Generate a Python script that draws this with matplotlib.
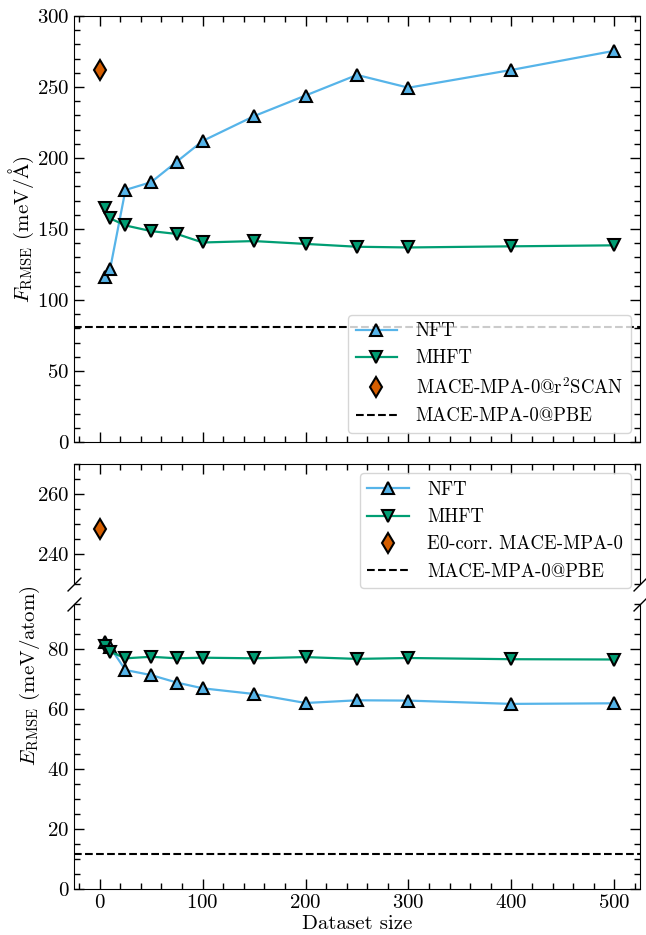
import matplotlib
matplotlib.use("Agg")
import matplotlib.pyplot as plt
from matplotlib.ticker import MultipleLocator

plt.rcParams['font.family'] = 'serif'
plt.rcParams['font.serif'] = ['cmr10', 'DejaVu Serif']
plt.rcParams['mathtext.fontset'] = 'cm'
plt.rcParams['axes.unicode_minus'] = False
plt.rcParams['axes.formatter.use_mathtext'] = True

# data
sizes = [5, 10, 25, 50, 75, 100, 150, 200, 250, 300, 400, 500]

f_nft = [116.5, 121.5, 177.5, 183, 197.5, 212, 229.5, 244, 258.5, 249.5, 262, 275.5]
f_mhft = [165, 157.5, 152.5, 148.5, 146.5, 140.5, 141.5, 139.5, 137.5, 137, 137.8, 138.5]
f_scan_x = [0]
f_scan = [262]
f_pbe = 80.8

e_nft = [82.5, 80.6, 73, 71.3, 68.8, 66.9, 65, 62, 62.9, 62.8, 61.7, 61.9]
e_mhft = [81, 79.1, 76.9, 77.4, 76.9, 77.1, 76.9, 77.3, 76.7, 77, 76.6, 76.5]
e_corr_x = [0]
e_corr = [248.3]
e_pbe = 11.8

c_nft = '#56B4E9'
c_mhft = '#009E73'
c_orange = '#D55E00'

W, H = 646, 935
fig = plt.figure(figsize=(W / 100, H / 100), dpi=100)

def box(l, t, r, b):
    return [l / W, 1 - b / H, (r - l) / W, (b - t) / H]

ax1 = fig.add_axes(box(74, 16, 640, 442))
ax2 = fig.add_axes(box(74, 464, 640, 584))
ax3 = fig.add_axes(box(74, 604, 640, 889))

mk = dict(markersize=9, markeredgecolor='k', markeredgewidth=1.5, linewidth=1.6)
leg_kw = dict(fontsize=13.5, handlelength=2.2, handletextpad=1.0)

# top panel: forces
ax1.plot(sizes, f_nft, marker='^', color=c_nft, markerfacecolor=c_nft, label='NFT', **mk)
ax1.plot(sizes, f_mhft, marker='v', color=c_mhft, markerfacecolor=c_mhft, label='MHFT', **mk)
ax1.plot(f_scan_x, f_scan, marker='d', linestyle='none', color=c_orange, markersize=10.5,
         markeredgecolor='k', markeredgewidth=1.5, label=r'MACE-MPA-0@r$^2$SCAN')
ax1.axhline(f_pbe, color='k', linestyle='--', linewidth=1.5, label='MACE-MPA-0@PBE')
ax1.set_ylim(0, 300)
ax1.yaxis.set_major_locator(MultipleLocator(50))
ax1.yaxis.set_minor_locator(MultipleLocator(10))
ax1.set_ylabel(r'$F_{\mathrm{RMSE}}$ (meV/$\mathrm{\AA}$)', fontsize=15)
ax1.yaxis.set_label_coords(-0.068, 0.5)
ax1.legend(loc='lower right', **leg_kw)
ax1.tick_params(labelbottom=False)

# bottom panel: energies, broken axis
for ax in (ax2, ax3):
    ax.plot(sizes, e_nft, marker='^', color=c_nft, markerfacecolor=c_nft, label='NFT', **mk)
    ax.plot(sizes, e_mhft, marker='v', color=c_mhft, markerfacecolor=c_mhft, label='MHFT', **mk)
    ax.plot(e_corr_x, e_corr, marker='d', linestyle='none', color=c_orange, markersize=10.5,
            markeredgecolor='k', markeredgewidth=1.5, label='E0-corr. MACE-MPA-0')
    ax.axhline(e_pbe, color='k', linestyle='--', linewidth=1.5, label='MACE-MPA-0@PBE')

ax2.set_ylim(230, 270)
ax2.yaxis.set_major_locator(MultipleLocator(20))
ax2.yaxis.set_minor_locator(MultipleLocator(5))
ax3.set_ylim(0, 95)
ax3.yaxis.set_major_locator(MultipleLocator(20))
ax3.yaxis.set_minor_locator(MultipleLocator(5))

ax2.spines['bottom'].set_visible(False)
ax3.spines['top'].set_visible(False)
ax2.legend(loc='upper right', **leg_kw)

for ax in (ax1, ax2, ax3):
    ax.set_xlim(-25, 525)
    ax.xaxis.set_major_locator(MultipleLocator(100))
    ax.xaxis.set_minor_locator(MultipleLocator(20))
    ax.tick_params(which='both', direction='in', top=True, right=True, labelsize=15)
    ax.tick_params(which='major', length=7, width=1)
    ax.tick_params(which='minor', length=4, width=1)

ax2.tick_params(which='both', bottom=False, labelbottom=False)
ax3.tick_params(which='both', top=False)
ax3.set_xlabel('Dataset size', fontsize=15, labelpad=2)

fig.text(30 / W, 1 - 676 / H, r'$E_{\mathrm{RMSE}}$ (meV/atom)', rotation=90,
         fontsize=15, ha='center', va='center')

# break marks
kw = dict(marker=[(-1, -1), (1, 1)], markersize=10, linestyle='none', color='k',
          mec='k', mew=1, clip_on=False)
ax2.plot([0, 1], [0, 0], transform=ax2.transAxes, **kw)
ax3.plot([0, 1], [1, 1], transform=ax3.transAxes, **kw)

fig.savefig('out.png', dpi=100)
